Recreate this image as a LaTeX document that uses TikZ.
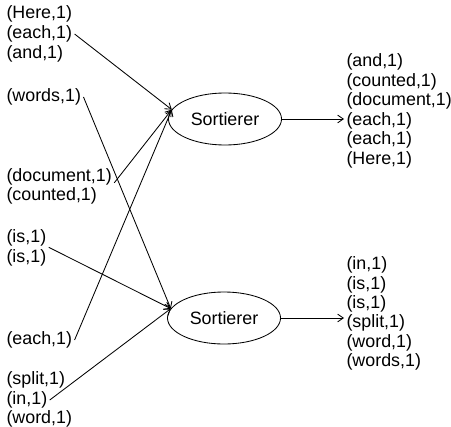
\documentclass[tikz,border=0pt]{standalone}
\usepackage{fontspec}
\setmainfont{Liberation Sans}
\usetikzlibrary{arrows.meta,shapes.geometric}
\tikzset{
	pair/.style={anchor=west,inner xsep=1.6pt,inner ysep=0.5pt,font=\fontsize{12.7}{13.9}\selectfont},
	sorter/.style={draw,ellipse,line width=0.6pt,minimum width=2.825cm,minimum height=1.3cm,inner sep=0pt,font=\fontsize{12.7}{13.9}\selectfont},
	feed/.style={line width=0.6pt,-{Straight Barb[length=4pt,width=5.5pt]}}
}
\begin{document}
\begin{tikzpicture}[x=0.025cm,y=-0.025cm]
		\useasboundingbox (0,0) rectangle (451,426);
		\node [sorter] (sortA) at (225,119) {Sortierer};
		\node [sorter] (sortB) at (224,318) {Sortierer};
		\node [pair] (lHere) at (4,14) {(Here,1)};
		\node [pair] (lEachA) at (4,34) {(each,1)};
		\node [pair] (lAnd) at (4,54) {(and,1)};
		\node [pair] (lWords) at (4,97) {(words,1)};
		\node [pair] (lDoc) at (4,177) {(document,1)};
		\node [pair] (lCounted) at (4,196) {(counted,1)};
		\node [pair] (lIsA) at (4,238) {(is,1)};
		\node [pair] (lIsB) at (4,258) {(is,1)};
		\node [pair] (lEachB) at (4,340) {(each,1)};
		\node [pair] (lSplit) at (4,380) {(split,1)};
		\node [pair] (lIn) at (4,400) {(in,1)};
		\node [pair] (lWord) at (4,419) {(word,1)};
		\node [pair] (rAnd) at (344,62) {(and,1)};
		\node [pair] (rCounted) at (344,82) {(counted,1)};
		\node [pair] (rDoc) at (344,101) {(document,1)};
		\node [pair] (rEachA) at (344,121) {(each,1)};
		\node [pair] (rEachB) at (344,140) {(each,1)};
		\node [pair] (rHere) at (344,160) {(Here,1)};
		\node [pair] (rIn) at (344,265) {(in,1)};
		\node [pair] (rIsA) at (344,285) {(is,1)};
		\node [pair] (rIsB) at (344,304) {(is,1)};
		\node [pair] (rSplit) at (344,323) {(split,1)};
		\node [pair] (rWord) at (344,343) {(word,1)};
		\node [pair] (rWords) at (344,362) {(words,1)};
		\draw [feed] (lEachA.east) to (sortA.170);
		\draw [feed] (lDoc.-6) to (sortA.170);
		\draw [feed] (lEachB.east) to (sortA.170);
		\draw [feed] (lWords.east) to (sortB.170);
		\draw [feed] (lIsA.south east) to (sortB.170);
		\draw [feed] (lIn.east) to (sortB.170);
		\draw [feed] (sortA.east) to (sortA.east -| rEachA.west);
		\draw [feed] (sortB.east) to (sortB.east -| rSplit.west);
	\end{tikzpicture}
\end{document}
